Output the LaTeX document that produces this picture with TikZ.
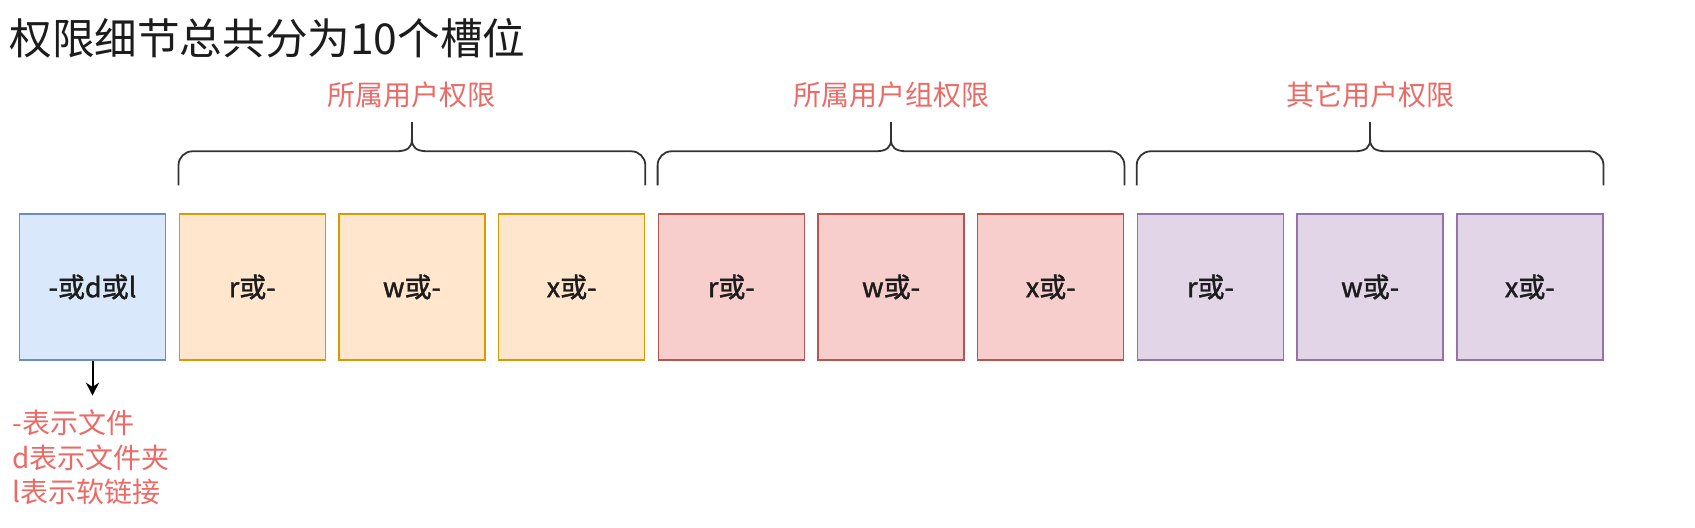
\documentclass[tikz,border=0pt]{standalone}
\usepackage{fontspec}
\setmainfont{Noto Sans CJK SC}
\newfontfamily\slotfont[FakeBold=1.5]{Noto Sans CJK SC}
\usetikzlibrary{arrows.meta}

\definecolor{bluefill}{HTML}{DAE8FC}
\definecolor{bluedraw}{HTML}{6C8EBF}
\definecolor{orangefill}{HTML}{FFE6CC}
\definecolor{orangedraw}{HTML}{D79B00}
\definecolor{redfill}{HTML}{F8CECC}
\definecolor{reddraw}{HTML}{B85450}
\definecolor{purplefill}{HTML}{E1D5E7}
\definecolor{purpledraw}{HTML}{9673A6}
\definecolor{notered}{HTML}{EA6B66}
\definecolor{darktext}{HTML}{1C1C1C}
\definecolor{bracketcol}{HTML}{333333}

\begin{document}
\begin{tikzpicture}[
    x=0.5pt, y=0.5pt,
    node distance=79.85pt,
    slot/.style={rectangle, draw, line width=0.7pt, minimum width=73pt, minimum height=73pt, inner sep=0pt, text=darktext, font=\slotfont\fontsize{13.5pt}{16pt}\selectfont},
    typeslot/.style={slot, fill=bluefill, draw=bluedraw},
    userslot/.style={slot, fill=orangefill, draw=orangedraw},
    groupslot/.style={slot, fill=redfill, draw=reddraw},
    otherslot/.style={slot, fill=purplefill, draw=purpledraw},
    bracket/.style={draw=bracketcol, line width=0.9pt},
    grouplabel/.style={text=notered, inner sep=0pt, font=\fontsize{14pt}{17pt}\selectfont},
    arrow/.style={-{Stealth[length=6.5pt, width=6.5pt]}, line width=1pt}
]
    \useasboundingbox (0,0) rectangle (1695,528);

    % Title
    \node[anchor=base west, inner sep=0pt, text=darktext, font=\fontsize{21.3pt}{25pt}\selectfont] (title) at (9,473) {权限细节总共分为10个槽位};

    % File type slot
    \node[typeslot] (type) at (92.5,241) {-或d或l};

    % Owner slots
    \node[userslot, right of=type] (uread) {r或-};
    \node[userslot, right of=uread] (uwrite) {w或-};
    \node[userslot, right of=uwrite] (uexec) {x或-};

    % Group slots
    \node[groupslot, right of=uexec] (gread) {r或-};
    \node[groupslot, right of=gread] (gwrite) {w或-};
    \node[groupslot, right of=gwrite] (gexec) {x或-};

    % Other slots
    \node[otherslot, right of=gexec] (oread) {r或-};
    \node[otherslot, right of=oread] (owrite) {w或-};
    \node[otherslot, right of=owrite] (oexec) {x或-};

    % Brackets
    \foreach \l/\m/\r/\txt in {uread/uwrite/uexec/所属用户权限, gread/gwrite/gexec/所属用户组权限, oread/owrite/oexec/其它用户权限} {
        \draw[bracket] ([yshift=14pt]\l.north west) -- ([yshift=24pt]\l.north west)
            to[out=90, in=180] ([xshift=7pt, yshift=31pt]\l.north west)
            -- ([xshift=-8pt, yshift=31pt]\m.north)
            .. controls ([xshift=-2pt, yshift=31pt]\m.north) and ([yshift=33pt]\m.north) .. ([yshift=37pt]\m.north)
            .. controls ([yshift=33pt]\m.north) and ([xshift=2pt, yshift=31pt]\m.north) .. ([xshift=8pt, yshift=31pt]\m.north)
            -- ([xshift=-7pt, yshift=31pt]\r.north east)
            to[out=0, in=90] ([yshift=24pt]\r.north east)
            -- ([yshift=14pt]\r.north east);
        \draw[bracket] ([yshift=37pt]\m.north) -- ([yshift=45.5pt]\m.north);
        \node[grouplabel] (label\m) at ([yshift=59pt]\m.north) {\txt};
    }

    % File type note
    \coordinate (typeend) at ([yshift=-17.5pt]type.south);
    \draw[arrow] (type) -- (typeend);
    \node[grouplabel, anchor=base west, align=left, font=\fontsize{14pt}{17.25pt}\selectfont] (typenote) at (12,25) {-表示文件\\d表示文件夹\\l表示软链接};
\end{tikzpicture}
\end{document}
